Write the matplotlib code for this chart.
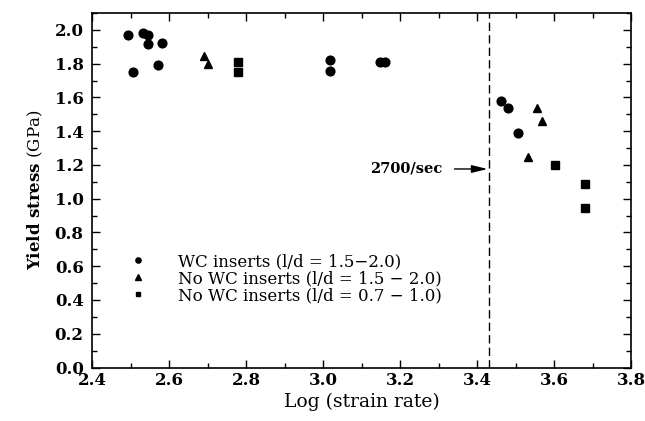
import numpy as np
import matplotlib
matplotlib.use("Agg")
import matplotlib.pyplot as plt
from matplotlib.ticker import MultipleLocator

plt.rcParams["font.family"] = ["DejaVu Serif"]
plt.rcParams["mathtext.fontset"] = "dejavuserif"

# Log(strain rate) vs yield stress (GPa)
wc_x = [2.493, 2.506, 2.532, 2.545, 2.545, 2.571, 2.581, 3.019, 3.019,
        3.148, 3.161, 3.462, 3.480, 3.507]
wc_y = [1.969, 1.748, 1.981, 1.969, 1.919, 1.791, 1.921, 1.820, 1.759,
        1.809, 1.809, 1.579, 1.540, 1.390]

nowc_long_x = [2.692, 2.700, 3.557, 3.570, 3.532]
nowc_long_y = [1.848, 1.799, 1.536, 1.461, 1.249]

nowc_short_x = [2.780, 2.780, 3.603, 3.681, 3.681]
nowc_short_y = [1.812, 1.751, 1.198, 1.089, 0.943]

labels = ["WC inserts (l/d = 1.5\u22122.0)",
          "No WC inserts (l/d = 1.5 \u2212 2.0)",
          "No WC inserts (l/d = 0.7 \u2212 1.0)"]

threshold_rate = 2700  # 1/sec
threshold_label = "2700/sec"
threshold_label_y = 1.176

fig = plt.figure(figsize=(6.45, 4.21), dpi=100)
ax = fig.add_axes([92 / 645, (421 - 367.5) / 421, 539 / 645, 354.5 / 421])

ax.plot(wc_x, wc_y, "o", color="black", ms=6.3, label=labels[0])
ax.plot(nowc_long_x, nowc_long_y, "^", color="black", ms=6.3, label=labels[1])
ax.plot(nowc_short_x, nowc_short_y, "s", color="black", ms=5.8, label=labels[2])

xt = np.log10(threshold_rate)
ax.axvline(xt, color="black", lw=1.0, ls=(0, (6, 3)))
ax.annotate(threshold_label, xy=(xt - 0.004, threshold_label_y),
            xytext=(3.309, threshold_label_y), ha="right", va="center",
            fontsize=10.5, fontweight="bold",
            arrowprops=dict(arrowstyle="-|>,head_length=0.9,head_width=0.22",
                            color="black", lw=1.0, shrinkA=7, shrinkB=0))

ax.set_xlim(2.4, 3.8)
ax.set_ylim(0, 2.1)
ax.xaxis.set_major_locator(MultipleLocator(0.2))
ax.xaxis.set_minor_locator(MultipleLocator(0.1))
ax.yaxis.set_major_locator(MultipleLocator(0.2))
ax.yaxis.set_minor_locator(MultipleLocator(0.1))
ax.xaxis.set_major_formatter(plt.FormatStrFormatter("%.1f"))
ax.yaxis.set_major_formatter(plt.FormatStrFormatter("%.1f"))
ax.tick_params(which="both", direction="in", top=True, right=True, width=1.0)
ax.tick_params(which="major", length=6)
ax.tick_params(which="minor", length=3.5)
ax.tick_params(axis="x", pad=3)
ax.tick_params(axis="y", pad=6)
for lab in ax.get_xticklabels() + ax.get_yticklabels():
    lab.set_fontweight("bold")
    lab.set_fontsize(12)
for sp in ax.spines.values():
    sp.set_linewidth(1.2)

ax.set_xlabel("Log (strain rate)", fontsize=13.5, labelpad=3)
ax.set_ylabel(r"$\mathbf{Yield\ stress}$ (GPa)", fontsize=12, labelpad=7)

leg = ax.legend(loc="center left", bbox_to_anchor=(0.0703, 0.2504),
                frameon=False, fontsize=12, handlelength=1.0,
                handletextpad=1.88, labelspacing=0.0, borderpad=0,
                borderaxespad=0, markerscale=0.6)

fig.savefig("out.png", dpi=100)
